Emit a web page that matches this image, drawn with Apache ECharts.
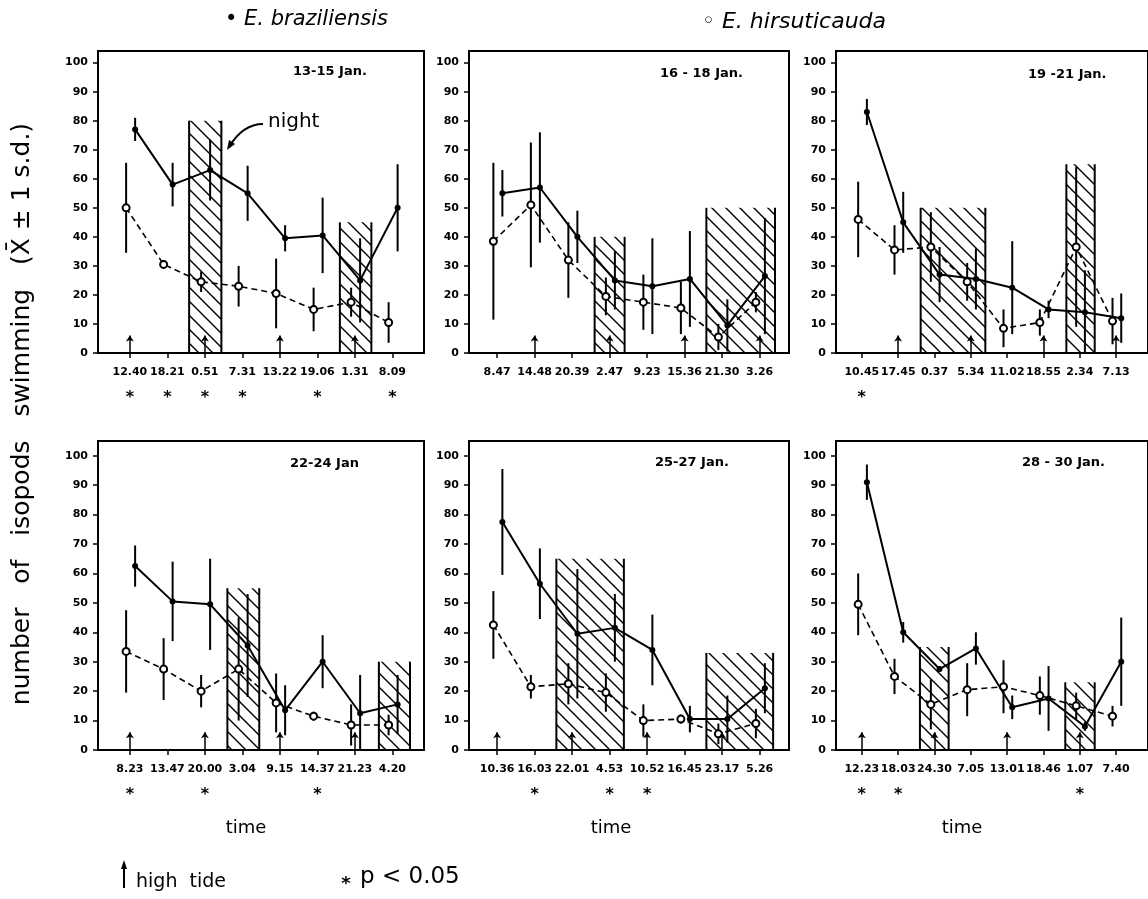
<!DOCTYPE html>
<html>
<head>
<meta charset="utf-8">
<title>Isopods swimming</title>
<script src="https://cdn.jsdelivr.net/npm/echarts@6/dist/echarts.min.js"></script>
<style>
  html, body { margin: 0; padding: 0; background: #fff; }
  #chart { width: 1148px; height: 899px; }
</style>
</head>
<body>
<div id="chart"></div>
<script>
// one row per panel, panels read left to right, top to bottom
const panelDates = ['13-15 Jan.', '16 - 18 Jan.', '19 -21 Jan.', '22-24 Jan', '25-27 Jan.', '28 - 30 Jan.'];
const timeLabels = [
  ['12.40', '18.21', '0.51', '7.31', '13.22', '19.06', '1.31', '8.09'],
  ['8.47', '14.48', '20.39', '2.47', '9.23', '15.36', '21.30', '3.26'],
  ['10.45', '17.45', '0.37', '5.34', '11.02', '18.55', '2.34', '7.13'],
  ['8.23', '13.47', '20.00', '3.04', '9.15', '14.37', '21.23', '4.20'],
  ['10.36', '16.03', '22.01', '4.53', '10.52', '16.45', '23.17', '5.26'],
  ['12.23', '18.03', '24.30', '7.05', '13.01', '18.46', '1.07', '7.40']
];
// E. braziliensis (filled dots, solid line)
const brazMean = [
  [77, 58, 63, 55, 39.5, 40.5, 25, 50],
  [55, 57, 40, 25, 23, 25.5, 9.5, 26.5],
  [83, 45, 27, 25.5, 22.5, 15, 14, 12],
  [62.5, 50.5, 49.5, 35.5, 13.5, 30, 12.5, 15.5],
  [77.5, 56.5, 39.5, 41.5, 34, 10.5, 10.5, 21],
  [91, 40, 27.5, 34.5, 14.5, 17.5, 8, 30]
];
const brazSd = [
  [4, 7.5, 10.5, 9.5, 4.5, 13, 14.5, 15],
  [8, 19, 9, 10, 16.5, 16.5, 9, 20],
  [4.5, 10.5, 9.5, 10.5, 16, 3, 14.5, 8.5],
  [7, 13.5, 15.5, 17.5, 8.5, 9, 13, 10],
  [18, 12, 22, 11.5, 12, 4.5, 8, 8.5],
  [6, 3.5, 1, 5.5, 4, 11, 1.5, 15]
];
// E. hirsuticauda (open circles, dashed line)
const hirsMean = [
  [50, 30.5, 24.5, 23, 20.5, 15, 17.5, 10.5],
  [38.5, 51, 32, 19.5, 17.5, 15.5, 5.5, 17.5],
  [46, 35.5, 36.5, 24.5, 8.5, 10.5, 36.5, 11],
  [33.5, 27.5, 20, 27.5, 16, 11.5, 8.5, 8.5],
  [42.5, 21.5, 22.5, 19.5, 10, 10.5, 5.5, 9],
  [49.5, 25, 15.5, 20.5, 21.5, 18.5, 15, 11.5]
];
const hirsSd = [
  [15.5, 1.5, 3.5, 7, 12, 7.5, 5, 7],
  [27, 21.5, 13, 6.5, 9.5, 9, 4.5, 3.5],
  [13, 8.5, 12, 6.5, 6.5, 4.5, 27.5, 8],
  [14, 10.5, 5.5, 17.5, 10, 1.5, 7, 3.5],
  [11.5, 4, 7, 6.5, 5.5, 1.5, 3.5, 5],
  [10.5, 6, 8.5, 9, 9, 6.5, 4.5, 3.5]
];
// night: [from, to, top of hatched block], x in sample steps
const nightBands = [
  [[1.58, 2.44, 80], [5.6, 6.44, 45]],
  [[2.6, 3.4, 40], [5.58, 7.41, 50]],
  [[1.62, 3.4, 50], [5.63, 6.41, 65]],
  [[2.6, 3.45, 55], [6.64, 7.47, 30]],
  [[1.58, 3.38, 65], [5.58, 7.36, 33]],
  [[1.6, 2.39, 35], [5.6, 6.41, 23]]
];
const highTide = [[0, 2, 4, 6], [1, 3, 5, 7], [1, 3, 5, 7], [0, 2, 4, 6], [0, 2, 4, 6], [0, 2, 4, 6]];
const signif = [[0, 1, 2, 3, 5, 7], [], [0], [0, 2, 5], [1, 3, 4], [0, 1, 6]];
const yTicks = [0, 10, 20, 30, 40, 50, 60, 70, 80, 90, 100];

// layout
const STEP = 37.5;
const colLeft = [98, 469, 836], colWidth = [326, 320, 322], colMin = [-0.85, -0.75, -0.71];
const rowTop = [51, 441], rowHeight = [302, 309], rowMax = [104, 105];
const OPEN_DX = -0.1, FILLED_DX = 0.14;
const TICK_FONT = 'DejaVu Sans';

// diagonal hatch for the night blocks
const hatch = document.createElement('canvas');
hatch.width = hatch.height = 14;
const hc = hatch.getContext('2d');
hc.strokeStyle = '#000';
hc.lineWidth = 1.4;
hc.beginPath();
hc.moveTo(-2, -2); hc.lineTo(16, 16);
hc.moveTo(-2, 12); hc.lineTo(2, 16);
hc.moveTo(12, -2); hc.lineTo(16, 2);
hc.stroke();

const chart = echarts.init(document.getElementById('chart'));
const grid = [], xAxis = [], yAxis = [], series = [];

for (let p = 0; p < 6; p++) {
  const col = p % 3, row = Math.floor(p / 3);
  const idx = timeLabels[p].map((_, i) => i);
  grid.push({
    left: colLeft[col], top: rowTop[row], width: colWidth[col], height: rowHeight[row],
    show: true, borderColor: '#000', borderWidth: 2, backgroundColor: 'transparent'
  });
  xAxis.push({
    gridIndex: p, type: 'value',
    min: colMin[col], max: colMin[col] + colWidth[col] / STEP,
    axisLine: { onZero: false, lineStyle: { color: '#000', width: 2 } },
    axisTick: { customValues: idx, length: 5, lineStyle: { color: '#000', width: 1.5 } },
    axisLabel: {
      customValues: idx, margin: 12,
      formatter: v => {
        const i = Math.round(v);
        return '{t|' + timeLabels[p][i] + '}\n{s|' + (signif[p].includes(i) ? '*' : ' ') + '}';
      },
      rich: {
        t: { fontFamily: TICK_FONT, fontWeight: 'bold', fontSize: 11, color: '#000', lineHeight: 14 },
        s: { fontFamily: TICK_FONT, fontWeight: 'bold', fontSize: 16, color: '#000', lineHeight: 38 }
      }
    },
    splitLine: { show: false }
  });
  yAxis.push({
    gridIndex: p, type: 'value', min: 0, max: rowMax[row],
    axisLine: { show: true, onZero: false, lineStyle: { color: '#000', width: 2 } },
    axisTick: { show: true, customValues: yTicks, length: 5, lineStyle: { color: '#000', width: 1.5 } },
    axisLabel: { customValues: yTicks, margin: 10, fontFamily: TICK_FONT, fontWeight: 'bold', fontSize: 11, color: '#000' },
    splitLine: { show: false }
  });

  // night blocks + high tide arrows
  series.push({
    type: 'custom', xAxisIndex: p, yAxisIndex: p, z: 1, silent: true,
    data: nightBands[p], encode: { x: [0, 1], y: 2 },
    renderItem: (params, api) => {
      const a = api.coord([api.value(0), api.value(2)]);
      const b = api.coord([api.value(1), 0]);
      const edge = x => ({ type: 'line', shape: { x1: x, y1: a[1], x2: x, y2: b[1] }, style: { stroke: '#000', lineWidth: 2 } });
      return {
        type: 'group', children: [
          { type: 'rect', shape: { x: a[0], y: a[1], width: b[0] - a[0], height: b[1] - a[1] },
            style: { fill: { image: hatch, repeat: 'repeat' } } },
          edge(a[0]), edge(b[0])
        ]
      };
    },
    markLine: {
      silent: true, symbol: ['none', 'arrow'], symbolSize: 6,
      lineStyle: { color: '#000', width: 1.5, type: 'solid' }, label: { show: false },
      data: highTide[p].map(i => [{ coord: [i, 0] }, { coord: [i, 6] }])
    }
  });

  // error bars, both species
  const bars = [];
  idx.forEach(i => {
    bars.push([i + OPEN_DX, hirsMean[p][i], hirsSd[p][i]]);
    bars.push([i + FILLED_DX, brazMean[p][i], brazSd[p][i]]);
  });
  series.push({
    type: 'custom', xAxisIndex: p, yAxisIndex: p, z: 2, silent: true,
    data: bars, encode: { x: 0, y: 1 },
    renderItem: (params, api) => {
      const x = api.value(0), m = api.value(1), s = api.value(2);
      const top = api.coord([x, m + s]), bot = api.coord([x, Math.max(0, m - s)]);
      return { type: 'line', shape: { x1: top[0], y1: top[1], x2: bot[0], y2: bot[1] }, style: { stroke: '#000', lineWidth: 2 } };
    }
  });

  series.push({
    name: 'E. hirsuticauda', type: 'line', xAxisIndex: p, yAxisIndex: p, z: 3,
    data: hirsMean[p].map((v, i) => [i + OPEN_DX, v]),
    symbol: 'emptyCircle', symbolSize: 7,
    lineStyle: { color: '#000', width: 1.6, type: [6, 4] },
    itemStyle: { color: '#000', borderWidth: 1.5 }
  });
  series.push({
    name: 'E. braziliensis', type: 'line', xAxisIndex: p, yAxisIndex: p, z: 4,
    data: brazMean[p].map((v, i) => [i + FILLED_DX, v]),
    symbol: 'circle', symbolSize: 6,
    lineStyle: { color: '#000', width: 2 },
    itemStyle: { color: '#000' }
  });
}

const dateText = [[293, 73], [660, 75], [1028, 76], [290, 465], [655, 464], [1022, 464]];
const graphic = panelDates.map((d, p) => ({
  type: 'text', left: dateText[p][0], top: dateText[p][1] - 8,
  style: { text: d, font: 'bold 13px "DejaVu Sans"', fill: '#000' }
}));

const centered = { fill: '#000', align: 'center', verticalAlign: 'middle' };
graphic.push(
  { type: 'text', left: 225, top: 9, style: { text: '• E. braziliensis', font: 'italic 21px "DejaVu Sans"', fill: '#000' } },
  { type: 'text', left: 702, top: 11, style: { text: '◦ E. hirsuticauda', font: 'italic 22px "DejaVu Sans"', fill: '#000' } },
  { type: 'text', x: 22, y: 414, rotation: Math.PI / 2,
    style: Object.assign({ text: 'number   of   isopods   swimming   (X̄ ± 1 s.d.)', font: '25px "DejaVu Sans"' }, centered) },
  // night annotation, panel 1
  { type: 'text', left: 268, top: 112, style: { text: 'night', font: '20px "DejaVu Sans"', fill: '#000' } },
  { type: 'bezierCurve', shape: { x1: 263, y1: 124, cpx1: 243, cpy1: 124, x2: 229, y2: 147 }, style: { stroke: '#000', lineWidth: 2, fill: 'none' } },
  { type: 'polygon', shape: { points: [[227, 150], [235, 144], [229, 140]] }, style: { fill: '#000' } },
  // axis name under bottom row
  { type: 'text', x: 246, y: 828, style: Object.assign({ text: 'time', font: '18px "DejaVu Sans"' }, centered) },
  { type: 'text', x: 611, y: 828, style: Object.assign({ text: 'time', font: '18px "DejaVu Sans"' }, centered) },
  { type: 'text', x: 962, y: 828, style: Object.assign({ text: 'time', font: '18px "DejaVu Sans"' }, centered) },
  // key
  { type: 'line', shape: { x1: 124, y1: 888, x2: 124, y2: 866 }, style: { stroke: '#000', lineWidth: 2 } },
  { type: 'polygon', shape: { points: [[124, 860], [121, 869], [127, 869]] }, style: { fill: '#000' } },
  { type: 'text', x: 136, y: 882, style: { text: 'high  tide', font: '19px "DejaVu Sans"', fill: '#000', verticalAlign: 'middle' } },
  { type: 'text', x: 346, y: 884, style: Object.assign({ text: '*', font: 'bold 18px "DejaVu Sans"' }, centered) },
  { type: 'text', x: 360, y: 877, style: { text: 'p < 0.05', font: '23px "DejaVu Sans"', fill: '#000', verticalAlign: 'middle' } }
);

chart.setOption({
  animation: false,
  backgroundColor: '#fff',
  grid, xAxis, yAxis, series, graphic
});
</script>
</body>
</html>
